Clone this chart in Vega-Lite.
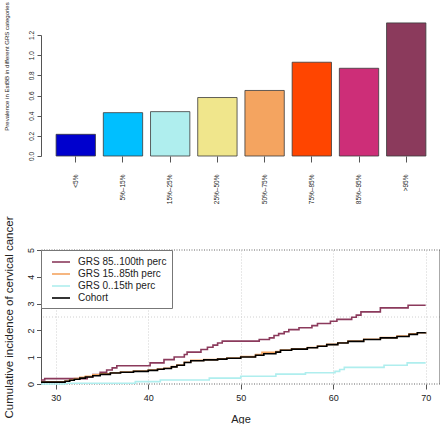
{
  "$schema": "https://vega.github.io/schema/vega-lite/v6.json",
  "padding": {"left": 2, "top": 1, "right": 0, "bottom": 0},
  "background": "white",
  "config": {"font": "Liberation Sans", "view": {"stroke": null}, "axis": {"labelOverlap": false}},
  "spacing": 94,
  "bounds": "flush",
  "resolve": {"scale": {"color": "independent", "x": "independent", "y": "independent"}, "legend": {"color": "independent"}},
  "datasets": {
    "prev": [
      {"category": "<5%", "prevalence": 0.215},
      {"category": "5%–15%", "prevalence": 0.43},
      {"category": "15%–25%", "prevalence": 0.44},
      {"category": "25%–50%", "prevalence": 0.58},
      {"category": "50%–75%", "prevalence": 0.65},
      {"category": "75%–85%", "prevalence": 0.93},
      {"category": "85%–95%", "prevalence": 0.87},
      {"category": ">95%", "prevalence": 1.32}
    ],
    "curves": [
      {"series": "GRS 85..100th perc", "age": 28.4, "value": 0.15},
      {"series": "GRS 85..100th perc", "age": 28.8, "value": 0.2},
      {"series": "GRS 85..100th perc", "age": 33.4, "value": 0.27},
      {"series": "GRS 85..100th perc", "age": 34.0, "value": 0.35},
      {"series": "GRS 85..100th perc", "age": 34.8, "value": 0.44},
      {"series": "GRS 85..100th perc", "age": 35.5, "value": 0.52},
      {"series": "GRS 85..100th perc", "age": 36.1, "value": 0.6},
      {"series": "GRS 85..100th perc", "age": 36.6, "value": 0.68},
      {"series": "GRS 85..100th perc", "age": 40.2, "value": 0.79},
      {"series": "GRS 85..100th perc", "age": 41.7, "value": 0.91},
      {"series": "GRS 85..100th perc", "age": 42.8, "value": 1.01},
      {"series": "GRS 85..100th perc", "age": 43.9, "value": 1.1},
      {"series": "GRS 85..100th perc", "age": 44.2, "value": 1.19},
      {"series": "GRS 85..100th perc", "age": 45.7, "value": 1.29},
      {"series": "GRS 85..100th perc", "age": 46.4, "value": 1.37},
      {"series": "GRS 85..100th perc", "age": 47.0, "value": 1.45},
      {"series": "GRS 85..100th perc", "age": 47.5, "value": 1.53},
      {"series": "GRS 85..100th perc", "age": 48.0, "value": 1.6},
      {"series": "GRS 85..100th perc", "age": 52.0, "value": 1.66},
      {"series": "GRS 85..100th perc", "age": 53.1, "value": 1.72},
      {"series": "GRS 85..100th perc", "age": 53.6, "value": 1.81},
      {"series": "GRS 85..100th perc", "age": 54.1, "value": 1.88},
      {"series": "GRS 85..100th perc", "age": 54.7, "value": 1.95},
      {"series": "GRS 85..100th perc", "age": 55.2, "value": 2.03},
      {"series": "GRS 85..100th perc", "age": 56.3, "value": 2.1},
      {"series": "GRS 85..100th perc", "age": 57.7, "value": 2.18},
      {"series": "GRS 85..100th perc", "age": 58.3, "value": 2.26},
      {"series": "GRS 85..100th perc", "age": 59.7, "value": 2.34},
      {"series": "GRS 85..100th perc", "age": 60.4, "value": 2.41},
      {"series": "GRS 85..100th perc", "age": 62.0, "value": 2.49},
      {"series": "GRS 85..100th perc", "age": 62.5, "value": 2.57},
      {"series": "GRS 85..100th perc", "age": 63.0, "value": 2.69},
      {"series": "GRS 85..100th perc", "age": 65.1, "value": 2.84},
      {"series": "GRS 85..100th perc", "age": 68.1, "value": 2.94},
      {"series": "GRS 85..100th perc", "age": 70.0, "value": 2.94},
      {"series": "GRS 0..15th perc", "age": 28.4, "value": 0.0},
      {"series": "GRS 0..15th perc", "age": 31.0, "value": 0.03},
      {"series": "GRS 0..15th perc", "age": 38.6, "value": 0.09},
      {"series": "GRS 0..15th perc", "age": 41.3, "value": 0.15},
      {"series": "GRS 0..15th perc", "age": 46.6, "value": 0.22},
      {"series": "GRS 0..15th perc", "age": 50.0, "value": 0.29},
      {"series": "GRS 0..15th perc", "age": 53.8, "value": 0.37},
      {"series": "GRS 0..15th perc", "age": 57.0, "value": 0.42},
      {"series": "GRS 0..15th perc", "age": 60.2, "value": 0.47},
      {"series": "GRS 0..15th perc", "age": 60.7, "value": 0.54},
      {"series": "GRS 0..15th perc", "age": 61.2, "value": 0.62},
      {"series": "GRS 0..15th perc", "age": 65.5, "value": 0.7},
      {"series": "GRS 0..15th perc", "age": 68.0, "value": 0.79},
      {"series": "GRS 0..15th perc", "age": 70.0, "value": 0.79},
      {"series": "GRS 15..85th perc", "age": 28.4, "value": 0.08},
      {"series": "GRS 15..85th perc", "age": 31.0, "value": 0.11},
      {"series": "GRS 15..85th perc", "age": 31.5, "value": 0.16},
      {"series": "GRS 15..85th perc", "age": 32.0, "value": 0.2},
      {"series": "GRS 15..85th perc", "age": 32.6, "value": 0.25},
      {"series": "GRS 15..85th perc", "age": 33.2, "value": 0.29},
      {"series": "GRS 15..85th perc", "age": 34.0, "value": 0.34},
      {"series": "GRS 15..85th perc", "age": 34.8, "value": 0.38},
      {"series": "GRS 15..85th perc", "age": 35.9, "value": 0.42},
      {"series": "GRS 15..85th perc", "age": 37.0, "value": 0.45},
      {"series": "GRS 15..85th perc", "age": 38.4, "value": 0.48},
      {"series": "GRS 15..85th perc", "age": 40.0, "value": 0.52},
      {"series": "GRS 15..85th perc", "age": 41.0, "value": 0.56},
      {"series": "GRS 15..85th perc", "age": 41.7, "value": 0.59},
      {"series": "GRS 15..85th perc", "age": 42.5, "value": 0.65},
      {"series": "GRS 15..85th perc", "age": 43.1, "value": 0.71},
      {"series": "GRS 15..85th perc", "age": 43.9, "value": 0.81},
      {"series": "GRS 15..85th perc", "age": 44.6, "value": 0.88},
      {"series": "GRS 15..85th perc", "age": 46.0, "value": 0.91},
      {"series": "GRS 15..85th perc", "age": 47.5, "value": 0.94},
      {"series": "GRS 15..85th perc", "age": 48.5, "value": 0.97},
      {"series": "GRS 15..85th perc", "age": 50.0, "value": 1.02},
      {"series": "GRS 15..85th perc", "age": 51.6, "value": 1.1},
      {"series": "GRS 15..85th perc", "age": 52.3, "value": 1.18},
      {"series": "GRS 15..85th perc", "age": 53.8, "value": 1.21},
      {"series": "GRS 15..85th perc", "age": 54.3, "value": 1.27},
      {"series": "GRS 15..85th perc", "age": 55.5, "value": 1.31},
      {"series": "GRS 15..85th perc", "age": 57.2, "value": 1.36},
      {"series": "GRS 15..85th perc", "age": 58.3, "value": 1.42},
      {"series": "GRS 15..85th perc", "age": 59.3, "value": 1.48},
      {"series": "GRS 15..85th perc", "age": 60.5, "value": 1.54},
      {"series": "GRS 15..85th perc", "age": 61.6, "value": 1.6},
      {"series": "GRS 15..85th perc", "age": 63.3, "value": 1.67},
      {"series": "GRS 15..85th perc", "age": 65.1, "value": 1.73},
      {"series": "GRS 15..85th perc", "age": 66.9, "value": 1.79},
      {"series": "GRS 15..85th perc", "age": 68.2, "value": 1.87},
      {"series": "GRS 15..85th perc", "age": 69.1, "value": 1.91},
      {"series": "GRS 15..85th perc", "age": 70.0, "value": 1.92},
      {"series": "Cohort", "age": 28.4, "value": 0.07},
      {"series": "Cohort", "age": 31.0, "value": 0.1},
      {"series": "Cohort", "age": 31.5, "value": 0.14},
      {"series": "Cohort", "age": 32.0, "value": 0.18},
      {"series": "Cohort", "age": 32.6, "value": 0.22},
      {"series": "Cohort", "age": 33.2, "value": 0.26},
      {"series": "Cohort", "age": 34.0, "value": 0.31},
      {"series": "Cohort", "age": 34.8, "value": 0.36},
      {"series": "Cohort", "age": 35.9, "value": 0.41},
      {"series": "Cohort", "age": 37.0, "value": 0.44},
      {"series": "Cohort", "age": 38.4, "value": 0.47},
      {"series": "Cohort", "age": 40.0, "value": 0.51},
      {"series": "Cohort", "age": 41.0, "value": 0.55},
      {"series": "Cohort", "age": 41.7, "value": 0.58},
      {"series": "Cohort", "age": 42.5, "value": 0.64},
      {"series": "Cohort", "age": 43.1, "value": 0.7},
      {"series": "Cohort", "age": 43.9, "value": 0.8},
      {"series": "Cohort", "age": 44.6, "value": 0.87},
      {"series": "Cohort", "age": 46.0, "value": 0.9},
      {"series": "Cohort", "age": 47.5, "value": 0.93},
      {"series": "Cohort", "age": 48.5, "value": 0.96},
      {"series": "Cohort", "age": 50.0, "value": 1.01},
      {"series": "Cohort", "age": 51.6, "value": 1.07},
      {"series": "Cohort", "age": 52.5, "value": 1.13},
      {"series": "Cohort", "age": 53.8, "value": 1.19},
      {"series": "Cohort", "age": 54.3, "value": 1.26},
      {"series": "Cohort", "age": 55.5, "value": 1.3},
      {"series": "Cohort", "age": 57.2, "value": 1.35},
      {"series": "Cohort", "age": 58.3, "value": 1.41},
      {"series": "Cohort", "age": 59.3, "value": 1.47},
      {"series": "Cohort", "age": 60.5, "value": 1.53},
      {"series": "Cohort", "age": 61.6, "value": 1.59},
      {"series": "Cohort", "age": 63.3, "value": 1.66},
      {"series": "Cohort", "age": 65.1, "value": 1.72},
      {"series": "Cohort", "age": 66.9, "value": 1.77},
      {"series": "Cohort", "age": 68.2, "value": 1.85},
      {"series": "Cohort", "age": 69.1, "value": 1.91},
      {"series": "Cohort", "age": 70.0, "value": 1.92}
    ]
  },
  "vconcat": [
    {
      "width": 400,
      "height": 121,
      "data": {"name": "prev"},
      "mark": {"type": "bar", "clip": false, "stroke": "#3a3a3a", "strokeWidth": 0.8},
      "encoding": {
        "x": {
          "field": "category", "type": "nominal", "sort": null,
          "scale": {"paddingInner": 0.1667, "paddingOuter": 0.32},
          "axis": {"title": null, "domain": false, "labelAngle": 270, "labelAlign": "right", "labelBaseline": "middle",
                   "labelFontSize": 6.5, "tickSize": 6, "labelPadding": 12, "tickColor": "#555", "labelColor": "#222", "labelOverlap": false}
        },
        "y": {
          "field": "prevalence", "type": "quantitative",
          "scale": {"domain": [0, 1.2], "nice": false},
          "axis": {"title": "Prevalence in EstBB in different GRS categories", "values": [0, 0.2, 0.4, 0.6, 0.8, 1.0, 1.2], "format": ".1f",
                   "grid": false, "domainColor": "#555", "tickColor": "#555", "tickSize": 4, "labelAngle": 270, "labelAlign": "center",
                   "labelBaseline": "middle", "labelPadding": 6, "labelFontSize": 6.5, "labelColor": "#222", "labelOverlap": false, "labelFlush": false,
                   "titleFontSize": 6, "titleFontWeight": "normal", "titleColor": "#222", "titleX": -35, "titleY": 31, "titleAngle": 270,
                   "titleAlign": "center", "titleBaseline": "middle"}
        },
        "color": {
          "field": "category", "type": "nominal", "sort": null,
          "scale": {"domain": ["<5%", "5%–15%", "15%–25%", "25%–50%", "50%–75%", "75%–85%", "85%–95%", ">95%"],
                    "range": ["#0000CD", "#00BFFF", "#AFEEEE", "#F0E68C", "#F4A460", "#FF4500", "#CD2E78", "#8B3A5C"]},
          "legend": null
        }
      }
    },
    {
      "width": 399,
      "height": 134,
      "resolve": {"axis": {"x": "independent", "y": "independent"}},
      "layer": [
        {
          "data": {"values": [{}]},
          "mark": {"type": "rule", "color": "#d0d0d0", "strokeDash": [1, 2], "strokeWidth": 1},
          "encoding": {"y": {"datum": 2.5, "type": "quantitative", "axis": null}}
        },
        {
          "data": {"values": [{}]},
          "mark": {"type": "rule", "color": "#666", "strokeDash": [1, 1.5], "strokeWidth": 1},
          "encoding": {"y": {"datum": 5, "type": "quantitative", "axis": null}}
        },
        {
          "data": {"values": [{}]},
          "mark": {"type": "rule", "color": "#666", "strokeDash": [1, 1.5], "strokeWidth": 1},
          "encoding": {"y": {"datum": 0, "type": "quantitative", "axis": null}}
        },
        {
          "data": {"values": [{}]},
          "mark": {"type": "rule", "color": "#555", "strokeWidth": 1},
          "encoding": {"x": {"datum": 71.55, "type": "quantitative", "axis": null}}
        },
        {
          "data": {"name": "curves"},
          "mark": {"type": "line", "interpolate": "step-after"},
          "encoding": {
            "x": {
              "field": "age", "type": "quantitative",
              "scale": {"domain": [28.4, 71.55], "nice": false, "zero": false},
              "axis": {"title": "Age", "values": [30, 40, 50, 60, 70], "grid": true, "gridDash": [1, 2], "gridColor": "#d0d0d0",
                       "domain": false, "tickSize": 5, "tickColor": "#555", "labelFontSize": 9, "labelPadding": 4, "labelColor": "#222",
                       "labelFlush": false, "titleFontSize": 11, "titleFontWeight": "normal", "titleColor": "#222", "titleY": 35, "titleBaseline": "middle"}
            },
            "y": {
              "field": "value", "type": "quantitative",
              "scale": {"domain": [0, 5], "nice": false},
              "axis": {"title": "Cumulative incidence of cervical cancer", "values": [0, 1, 2, 3, 4, 5], "grid": false,
                       "domainColor": "#555", "tickColor": "#555", "tickSize": 4.5, "labelAngle": 270, "labelAlign": "center",
                       "labelBaseline": "middle", "labelPadding": 6, "labelFontSize": 9, "labelColor": "#222", "labelFlush": false, "labelOverlap": false,
                       "labelSeparation": 0,
                       "titleFontSize": 11.5, "titleFontWeight": "normal", "titleColor": "#222", "titleX": -32, "titleY": 67,
                       "titleAngle": 270, "titleAlign": "center", "titleBaseline": "middle"}
            },
            "color": {
              "field": "series", "type": "nominal",
              "scale": {"domain": ["GRS 85..100th perc", "GRS 15..85th perc", "GRS 0..15th perc", "Cohort"],
                        "range": ["#8B3A5C", "#F4A460", "#AFEEEE", "#000000"]},
              "legend": {"orient": "top-left", "offset": 0, "title": null, "symbolType": "M-1.5,0H1.5", "symbolSize": 144,
                         "symbolStrokeWidth": 1.6, "symbolOffset": 8, "labelFontSize": 10, "labelOffset": 10, "rowPadding": 0, "padding": 5,
                         "strokeColor": "#777", "fillColor": "white", "labelColor": "#222"}
            },
            "strokeWidth": {
              "field": "series", "type": "ordinal",
              "scale": {"domain": ["GRS 85..100th perc", "GRS 15..85th perc", "GRS 0..15th perc", "Cohort"], "range": [1.6, 1.6, 1.6, 2]},
              "legend": null
            }
          }
        }
      ]
    }
  ]
}
